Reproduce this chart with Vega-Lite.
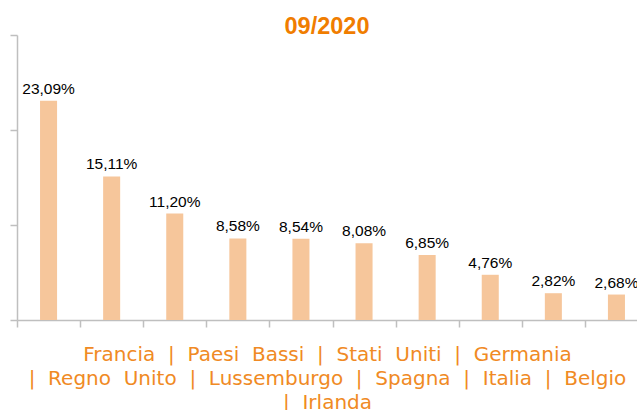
{
  "$schema": "https://vega.github.io/schema/vega-lite/v6.json",
  "width": 620,
  "height": 285,
  "autosize": {"type": "none"},
  "padding": {"left": 17, "top": 35, "right": 0, "bottom": 90},
  "config": {
    "locale": {"number": {"decimal": ",", "thousands": ".", "grouping": [3], "currency": ["€", ""]}},
    "view": {"stroke": null},
    "font": "Liberation Sans"
  },
  "title": {
    "text": "09/2020",
    "fontSize": 23.5,
    "fontWeight": "bold",
    "color": "#F07D00",
    "font": "Liberation Sans",
    "anchor": "middle",
    "offset": -4
  },
  "data": {
    "values": [
      {"paese": "Francia", "quota": 0.2309},
      {"paese": "Paesi Bassi", "quota": 0.1511},
      {"paese": "Stati Uniti", "quota": 0.1120},
      {"paese": "Germania", "quota": 0.0858},
      {"paese": "Regno Unito", "quota": 0.0854},
      {"paese": "Lussemburgo", "quota": 0.0808},
      {"paese": "Spagna", "quota": 0.0685},
      {"paese": "Italia", "quota": 0.0476},
      {"paese": "Belgio", "quota": 0.0282},
      {"paese": "Irlanda", "quota": 0.0268}
    ]
  },
  "encoding": {
    "x": {
      "field": "paese",
      "type": "nominal",
      "sort": null,
      "scale": {"paddingInner": 0, "paddingOuter": 0, "range": [0, 631]},
      "axis": {
        "labels": false,
        "tickBand": "extent",
        "domainColor": "#BFBFBF",
        "tickColor": "#BFBFBF",
        "domainWidth": 1.5,
        "tickWidth": 1.5,
        "tickSize": 7,
        "title": ["Francia \u00a0| \u00a0Paesi \u00a0Bassi \u00a0| \u00a0Stati \u00a0Uniti \u00a0| \u00a0Germania", "| \u00a0Regno \u00a0Unito \u00a0| \u00a0Lussemburgo \u00a0| \u00a0Spagna \u00a0| \u00a0Italia \u00a0| \u00a0Belgio", "| \u00a0Irlanda"],
        "titleFont": "DejaVu Sans",
        "titleFontSize": 20,
        "titleFontWeight": "normal",
        "titleColor": "#F08A24",
        "titleLineHeight": 24,
        "titlePadding": 17,
        "titleX": 310,
        "titleAlign": "center"
      }
    },
    "y": {
      "field": "quota",
      "type": "quantitative",
      "scale": {"domain": [0, 0.3], "nice": false},
      "axis": {
        "values": [0, 0.1, 0.2, 0.3],
        "labels": false,
        "title": null,
        "grid": false,
        "domainColor": "#BFBFBF",
        "tickColor": "#BFBFBF",
        "domainWidth": 1.5,
        "tickWidth": 1.5,
        "tickSize": 7
      }
    }
  },
  "layer": [
    {"mark": {"type": "bar", "color": "#F6C69B", "width": {"band": 0.27}}},
    {
      "mark": {"type": "text", "baseline": "alphabetic", "dy": -7, "fontSize": 15.5, "color": "#000000", "font": "Liberation Sans"},
      "encoding": {"text": {"field": "quota", "type": "quantitative", "format": ".2%"}}
    }
  ]
}
